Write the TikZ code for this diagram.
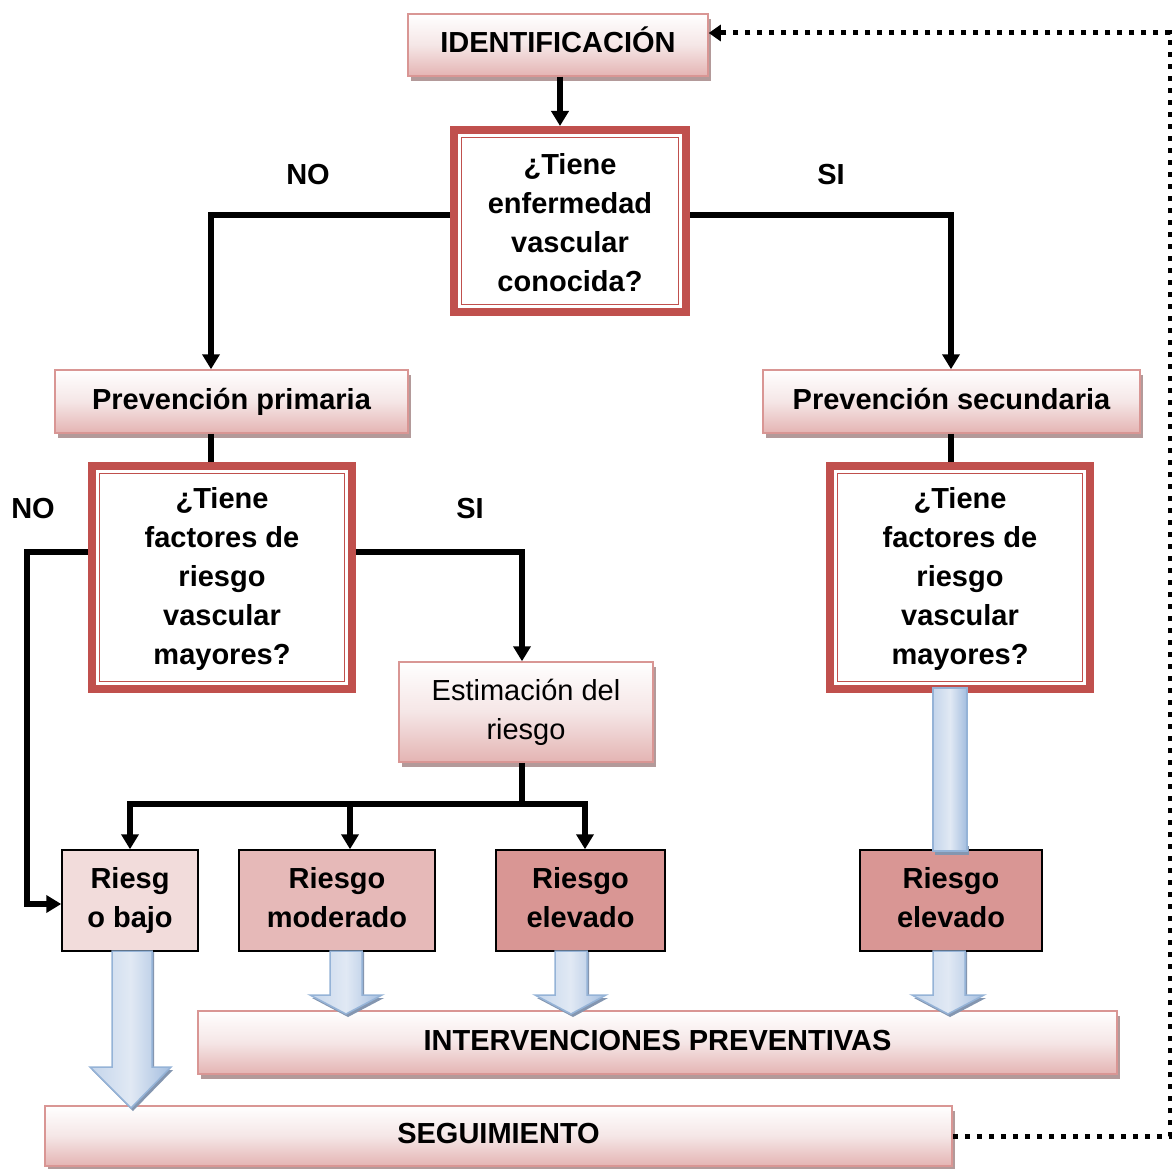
\documentclass[tikz,border=0pt]{standalone}
\usepackage{fontspec}
\setmainfont{Liberation Sans}
\usetikzlibrary{arrows.meta,shadows}
\definecolor{pinkedge}{HTML}{D99694}
\definecolor{pinkfill}{HTML}{E4B4B3}
\definecolor{pinkmid}{HTML}{F5E6E6}
\definecolor{decred}{HTML}{C0504D}
\definecolor{lowfill}{HTML}{F2DCDB}
\definecolor{modfill}{HTML}{E6B9B8}
\definecolor{highfill}{HTML}{D99694}
\definecolor{shadowc}{HTML}{B39A9A}
\definecolor{blueedge}{HTML}{95B3D7}
\definecolor{bluelight}{HTML}{E1E9F4}
\definecolor{blueleft}{HTML}{C4D5EB}
\definecolor{blueright}{HTML}{A3BDDF}
\definecolor{blueshadow}{HTML}{8496B0}
\tikzset{
  txt/.style={font=\fontsize{29}{39}\selectfont\bfseries, align=center, inner sep=0pt},
  pinkbox/.style={txt, draw=pinkedge, line width=1.5pt, top color=white, bottom color=pinkfill, middle color=pinkmid,
    drop shadow={shadow xshift=3pt, shadow yshift=-5pt, fill=shadowc, opacity=1}},
  oneline/.style={text height=21pt, text depth=6pt},
  decbox/.style={txt, draw=decred, line width=8pt, fill=white},
  decinner/.style={draw=decred, line width=1.5pt},
  riskbox/.style={txt, draw=black, line width=1.5pt},
  lbl/.style={font=\fontsize{29}{39}\selectfont\bfseries, inner sep=0pt},
  plainline/.style={line width=5.5pt},
  conn/.style={line width=5.5pt, -{Triangle[width=17pt,length=15pt]}},
  dotline/.style={line width=5pt, dash pattern=on 5pt off 7pt, -{Triangle[width=16pt,length=12pt]}},
  blockarrow/.style={draw=blueedge, line width=1.5pt, left color=blueleft, right color=blueright, middle color=bluelight},
  blockshadow/.style={fill=blueshadow},
}
\begin{document}
\begin{tikzpicture}[x=1pt,y=-1pt]
\fill[white] (0,0) rectangle (1172,1169);
\useasboundingbox (0,0) rectangle (1172,1169);

% boxes
\node[pinkbox, oneline, minimum width=300pt, minimum height=62pt] (ident) at (558,45) {IDENTIFICACIÓN};
\node[decbox, minimum width=232pt, minimum height=182pt] (d1) at (570,221) {};
\node[txt] (d1t) at (570,223) {¿Tiene\\enfermedad\\vascular\\conocida?};
\node[pinkbox, oneline, minimum width=353pt, minimum height=63pt] (prevp) at (231.5,401.5) {Prevención primaria};
\node[pinkbox, oneline, minimum width=377pt, minimum height=63pt] (prevs) at (951.5,401.5) {Prevención secundaria};
\node[decbox, minimum width=260pt, minimum height=223pt] (d2) at (222,577.5) {};
\node[txt] (d2t) at (222,578.5) {¿Tiene\\factores de\\riesgo\\vascular\\mayores?};
\node[decbox, minimum width=260pt, minimum height=223pt] (d3) at (960,577.5) {};
\node[txt] (d3t) at (960,578.5) {¿Tiene\\factores de\\riesgo\\vascular\\mayores?};
\draw[decinner] ([shift={(11.5,11.5)}]d1.north west) rectangle ([shift={(-11.5,-11.5)}]d1.south east);
\draw[decinner] ([shift={(11.5,11.5)}]d2.north west) rectangle ([shift={(-11.5,-11.5)}]d2.south east);
\draw[decinner] ([shift={(11.5,11.5)}]d3.north west) rectangle ([shift={(-11.5,-11.5)}]d3.south east);
\node[pinkbox, font=\fontsize{29}{39}\selectfont, minimum width=254pt, minimum height=100pt] (est) at (526,712) {Estimación del\\riesgo};
\node[riskbox, fill=lowfill, minimum width=136pt, minimum height=101pt] (rb) at (130,900.5) {Riesg\\o bajo};
\node[riskbox, fill=modfill, minimum width=196pt, minimum height=101pt] (rm) at (337,900.5) {};
\node[txt] (rmt) at (337,897.5) {Riesgo\\moderado};
\node[riskbox, fill=highfill, minimum width=169pt, minimum height=101pt] (re) at (580.5,900.5) {};
\node[txt] (ret) at (580.5,897.5) {Riesgo\\elevado};
\node[riskbox, fill=highfill, minimum width=182pt, minimum height=101pt] (re2) at (951,900.5) {};
\node[txt] (re2t) at (951,897.5) {Riesgo\\elevado};
\node[pinkbox, oneline, minimum width=919pt, minimum height=63pt] (interv) at (657.5,1042.5) {INTERVENCIONES PREVENTIVAS};
\node[pinkbox, oneline, minimum width=907pt, minimum height=60pt] (seg) at (498.5,1136) {SEGUIMIENTO};

% labels
\node[lbl] (no1) at (308,175) {NO};
\node[lbl] (si1) at (831,175) {SI};
\node[lbl] (no2) at (33,509) {NO};
\node[lbl] (si2) at (470,509) {SI};

% connectors
\coordinate (k1) at (211,215);
\coordinate (k2) at (951,215);
\coordinate (k3) at (27,552);
\coordinate (k4) at (27,904);
\coordinate (k5) at (522,552);
\coordinate (bus) at (522,804);
\coordinate (xm) at (350,804);
\coordinate (xe) at (585,804);
\coordinate (xi) at (560,0);
\draw[conn] (xi |- ident.south) -- (xi |- d1.north);
\draw[conn] (d1.west |- k1) -- (k1) -- (k1 |- prevp.north);
\draw[conn] (d1.east |- k2) -- (k2) -- (k2 |- prevs.north);
\draw[plainline] (k1 |- prevp.south) -- (k1 |- d2.north);
\draw[plainline] (k2 |- prevs.south) -- (k2 |- d3.north);
\draw[conn] (d2.west |- k3) -- (k3) -- (k4) -- (rb.west |- k4);
\draw[conn] (d2.east |- k5) -- (k5) -- (k5 |- est.north);
\draw[plainline] (k5 |- est.south) -- (bus);
\draw[conn] (bus) -| (rb.north);
\draw[conn] (bus) -- (xm) -- (xm |- rm.north);
\draw[conn] (bus) -- (xe) -- (xe |- re.north);

% feedback dotted line
\coordinate (c1) at (1170,1136);
\coordinate (c2) at (1170,33);
\draw[dotline] (seg.east) -- (c1) -- (c2) -- (ident.east |- c2);

% block arrows
% pillar
\fill[blockshadow] (935,846) rectangle (969,855);
\draw[blockarrow] (933,688) rectangle (967,851);
% bajo
\fill[blockshadow] (114,952) -- (154,952) -- (154,1070) -- (173,1070) -- (133,1111) -- (92,1070) -- (114,1070) -- cycle;
\draw[blockarrow] (112,951) -- (152,951) -- (152,1067) -- (171,1067) -- (131,1108) -- (90,1067) -- (112,1067) -- cycle;
% moderado
\fill[blockshadow] (332,952) -- (364,952) -- (364,998) -- (384,998) -- (348,1017) -- (312,998) -- (332,998) -- cycle;
\draw[blockarrow] (330,951) -- (362,951) -- (362,995) -- (382,995) -- (346,1014) -- (310,995) -- (330,995) -- cycle;
% elevado
\fill[blockshadow] (557,952) -- (589,952) -- (589,998) -- (608,998) -- (573,1017) -- (537,998) -- (557,998) -- cycle;
\draw[blockarrow] (555,951) -- (587,951) -- (587,995) -- (606,995) -- (571,1014) -- (535,995) -- (555,995) -- cycle;
% elevado 2
\fill[blockshadow] (935,952) -- (967,952) -- (967,998) -- (986,998) -- (950,1017) -- (914,998) -- (935,998) -- cycle;
\draw[blockarrow] (933,951) -- (965,951) -- (965,995) -- (984,995) -- (948,1014) -- (912,995) -- (933,995) -- cycle;
\end{tikzpicture}
\end{document}
